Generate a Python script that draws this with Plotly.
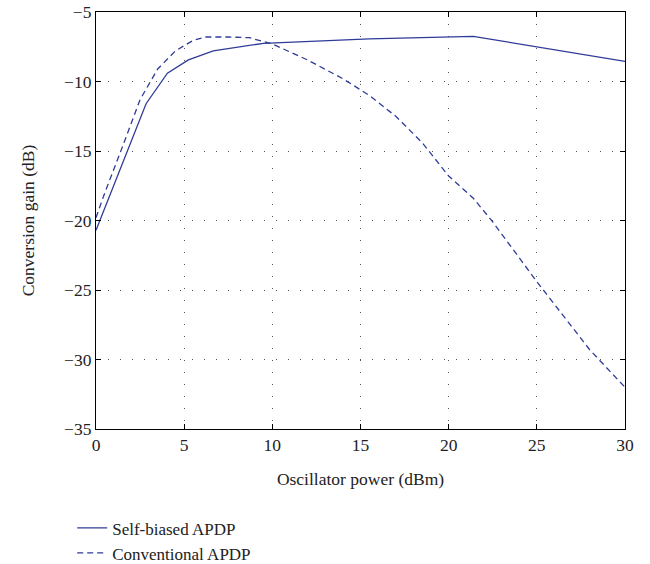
import plotly.graph_objects as go

self_x = [0, 1.4, 2.84, 4.05, 5.24, 6.65, 9.5, 15.5, 21.4, 30]
self_y = [-20.7, -16.2, -11.6, -9.4, -8.45, -7.8, -7.25, -6.94, -6.75, -8.55]

conv_x = [0, 0.5, 1.5, 2.5, 3.5, 4.5, 5.5, 6.2, 7.5, 8.7, 10, 12, 14, 15.5, 17, 18.5, 20, 21.4, 22.5, 25, 28, 30]
conv_y = [-19.8, -18.0, -14.7, -11.3, -9.1, -7.8, -7.05, -6.8, -6.8, -6.85, -7.3, -8.45, -9.8, -11.0,
          -12.5, -14.4, -16.8, -18.4, -20.1, -24.4, -29.3, -32.0]

x_ticks = [0, 5, 10, 15, 20, 25, 30]
y_ticks = [-35, -30, -25, -20, -15, -10, -5]

color = "#2f3b98"
font = "Liberation Serif"

fig = go.Figure()
fig.add_trace(go.Scatter(x=self_x, y=self_y, mode="lines", name="Self-biased APDP",
                         line=dict(color=color, width=1.3)))
fig.add_trace(go.Scatter(x=conv_x, y=conv_y, mode="lines", name="Conventional APDP",
                         line=dict(color=color, width=1.3, dash="6px,4px")))

axis_common = dict(
    showline=True, linecolor="black", linewidth=1.2, mirror="ticks",
    ticks="inside", ticklen=5, tickcolor="black", tickwidth=1,
    showgrid=True, gridcolor="#555555", griddash="1px,11px", gridwidth=1,
    zeroline=False, tickfont=dict(family=font, size=17.5, color="#222"),
)

fig.update_xaxes(range=[0, 30], tickvals=x_ticks, title=dict(text="Oscillator power (dBm)",
                 font=dict(family=font, size=17.5, color="#222"), standoff=18), **axis_common)
fig.update_yaxes(range=[-35, -5], tickvals=y_ticks, title=dict(text="Conversion gain (dB)",
                 font=dict(family=font, size=17.5, color="#222"), standoff=24), **axis_common)

fig.update_layout(
    width=650, height=564,
    margin=dict(l=96, r=25, t=12, b=135, autoexpand=False),
    plot_bgcolor="white", paper_bgcolor="white",
    font=dict(family=font, size=17, color="#222"),
    legend=dict(x=-0.045, y=-0.195, xanchor="left", yanchor="top",
                font=dict(family=font, size=17, color="#222"),
                itemwidth=30, tracegroupgap=0, bgcolor="rgba(0,0,0,0)"),
    showlegend=True,
)

fig.write_html("out.html")
